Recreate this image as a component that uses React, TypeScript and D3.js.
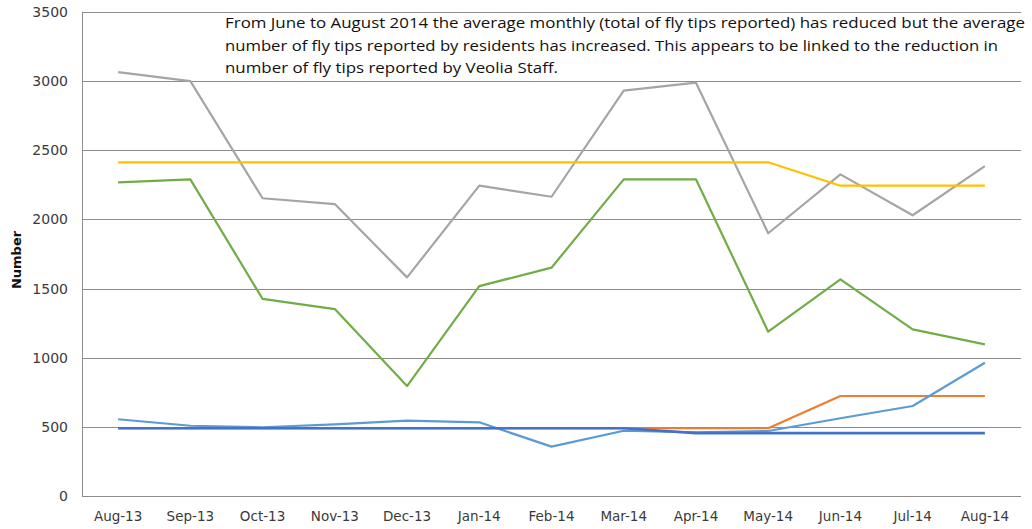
import React, { useRef, useEffect } from 'react';
import * as d3 from 'd3';

const months = ['Aug-13', 'Sep-13', 'Oct-13', 'Nov-13', 'Dec-13', 'Jan-14', 'Feb-14', 'Mar-14', 'Apr-14', 'May-14', 'Jun-14', 'Jul-14', 'Aug-14'];
const yTicks = [0, 500, 1000, 1500, 2000, 2500, 3000, 3500];

// series, in the order Excel drew them
const totalReported = [3065, 3000, 2153, 2111, 1581, 2244, 2164, 2931, 2989, 1900, 2326, 2030, 2386];
const veoliaStaff = [2268, 2290, 1425, 1352, 795, 1518, 1651, 2290, 2290, 1188, 1567, 1205, 1097];
const avgTotal = [2413, 2413, 2413, 2413, 2413, 2413, 2413, 2413, 2413, 2413, 2244, 2244, 2244];
const avgResidents = [490, 490, 490, 490, 490, 490, 490, 490, 490, 490, 723, 723, 723];
const residents = [555, 508, 497, 518, 545, 533, 357, 472, 460, 470, 562, 651, 964];
const avgOther = [490, 490, 490, 490, 490, 490, 490, 490, 455, 455, 455, 455, 455];

const noteLines = [
  'From June to August 2014  the average monthly (total of fly tips reported) has reduced but the average',
  'number of fly tips reported by residents has increased. This appears to be linked to the reduction in',
  'number of fly tips reported by Veolia Staff.',
];
const noteWidths = [800, 773, 333];

export default function App() {
  const svgRef = useRef<SVGSVGElement | null>(null);

  useEffect(() => {
    const width = 1032;
    const height = 529;
    const margin = { top: 12, right: 11, bottom: 33, left: 82 };
    const innerW = width - margin.left - margin.right;
    const innerH = height - margin.top - margin.bottom;

    d3.select(svgRef.current).selectAll('*').remove();
    const svg = d3.select(svgRef.current).attr('width', width).attr('height', height);
    const g = svg.append('g').attr('transform', `translate(${margin.left},${margin.top})`);

    const x = d3.scaleBand().domain(months).range([0, innerW]);
    const y = d3.scaleLinear().domain([0, 3500]).range([innerH, 0]);
    const cx = (i: number) => (x(months[i]) as number) + x.bandwidth() / 2;

    // grid
    g.append('g')
      .selectAll('line')
      .data(yTicks)
      .join('line')
      .attr('x1', 0)
      .attr('x2', innerW)
      .attr('y1', (d) => Math.round(y(d)) + 0.5)
      .attr('y2', (d) => Math.round(y(d)) + 0.5)
      .attr('stroke', '#8c8c8c')
      .attr('stroke-width', 1);

    g.append('line')
      .attr('x1', 0.5)
      .attr('x2', 0.5)
      .attr('y1', 0)
      .attr('y2', innerH)
      .attr('stroke', '#8c8c8c');

    // y labels
    g.append('g')
      .selectAll('text')
      .data(yTicks)
      .join('text')
      .attr('x', -14)
      .attr('y', (d) => y(d))
      .attr('dy', '0.36em')
      .attr('text-anchor', 'end')
      .attr('font-family', 'DejaVu Sans, sans-serif')
      .attr('font-size', 14)
      .attr('fill', '#3a3a3a')
      .text((d) => d);

    // x labels
    g.append('g')
      .selectAll('text')
      .data(months)
      .join('text')
      .attr('x', (_, i) => cx(i))
      .attr('y', innerH + 25)
      .attr('text-anchor', 'middle')
      .attr('font-family', 'DejaVu Sans, sans-serif')
      .attr('font-size', 13.5)
      .attr('fill', '#3a3a3a')
      .text((d) => d);

    // axis title
    svg.append('text')
      .attr('transform', `translate(21,${margin.top + innerH / 2 + 6}) rotate(-90)`)
      .attr('text-anchor', 'middle')
      .attr('font-family', 'DejaVu Sans, sans-serif')
      .attr('font-weight', 'bold')
      .attr('font-size', 13)
      .attr('fill', '#111')
      .text('Number');

    const line = d3
      .line<number>()
      .x((_, i) => cx(i))
      .y((d) => y(d));

    const series = [
      { values: totalReported, color: '#a5a5a5', w: 2.2 },
      { values: veoliaStaff, color: '#70ad47', w: 2.2 },
      { values: avgTotal, color: '#ffc000', w: 2.2 },
      { values: avgResidents, color: '#ed7d31', w: 2.2 },
      { values: residents, color: '#5b9bd5', w: 2.2 },
      { values: avgOther, color: '#4472c4', w: 2.6 },
    ];

    g.selectAll('.series')
      .data(series)
      .join('path')
      .attr('class', 'series')
      .attr('d', (d) => line(d.values))
      .attr('fill', 'none')
      .attr('stroke', (d) => d.color)
      .attr('stroke-width', (d) => d.w)
      .attr('stroke-linejoin', 'round');

    // annotation
    svg.append('g')
      .selectAll('text')
      .data(noteLines)
      .join('text')
      .attr('x', 225)
      .attr('y', (_, i) => 28 + i * 22.5)
      .attr('font-family', 'Open Sans, sans-serif')
      .attr('font-size', 15)
      .attr('fill', '#111')
      .attr('textLength', (_, i) => noteWidths[i])
      .attr('lengthAdjust', 'spacingAndGlyphs')
      .text((d) => d);
  }, []);

  return (
    <div style={{ position: 'absolute', left: 0, top: 0, background: '#fff' }}>
      <svg ref={svgRef} />
    </div>
  );
}
